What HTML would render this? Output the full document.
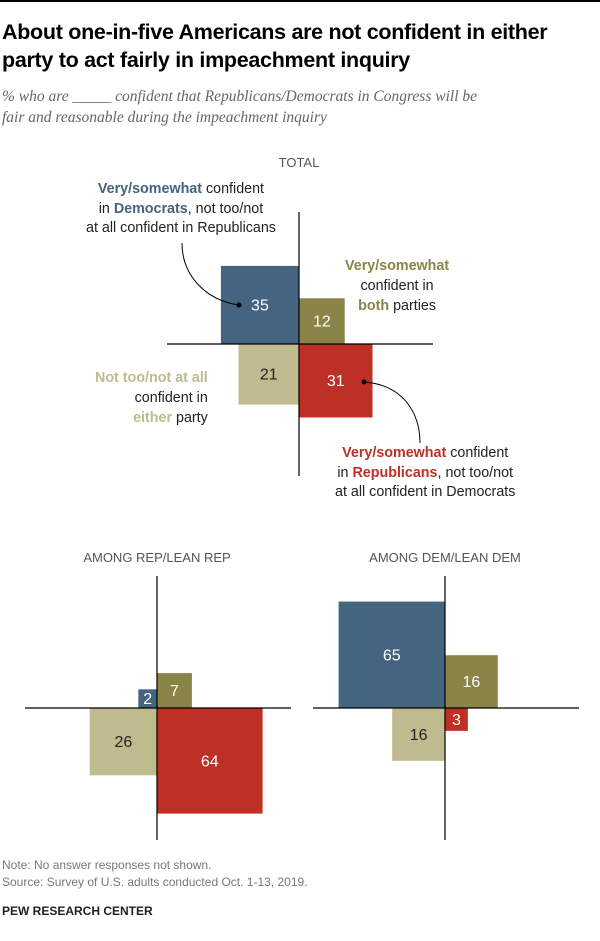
<!DOCTYPE html>
<html><head><meta charset="utf-8"><style>
body{margin:0;width:600px;height:941px;background:#fff;font-family:"Liberation Sans",sans-serif;position:relative;overflow:hidden}
.t{position:absolute;white-space:nowrap}
</style></head><body>
<div style="position:absolute;left:0;top:0;width:600px;height:2px;background:#000"></div>
<div class="t" style="left:2px;top:18px;font-size:21.5px;font-weight:bold;line-height:28px;color:#000;letter-spacing:-0.3px">About one-in-five Americans are not confident in either<br>party to act fairly in impeachment inquiry</div>
<div class="t" style="left:2px;top:86px;font-family:'Liberation Serif',serif;font-style:italic;font-size:15.5px;line-height:21px;color:#666">% who are _____ confident that Republicans/Democrats in Congress will be<br>fair and reasonable during the impeachment inquiry</div>
<svg id="chart" width="600" height="941" style="position:absolute;left:0;top:0" font-family="Liberation Sans, sans-serif"></svg>
<div class="t" style="left:86px;top:180px;font-size:14.3px;line-height:19.5px;color:#222;text-align:center"><b style="color:#44647f">Very/somewhat</b> confident<br>in <b style="color:#44647f">Democrats</b>, not too/not<br>at all confident in Republicans</div>
<div class="t" style="left:345px;top:256px;font-size:14.3px;line-height:20px;color:#222;text-align:center"><b style="color:#8a8448">Very/somewhat</b><br>confident in<br><b style="color:#8a8448">both</b> parties</div>
<div class="t" style="left:95px;top:368px;font-size:14.3px;line-height:20px;color:#222;text-align:right"><b style="color:#c0ba8f">Not too/not at all</b><br>confident in<br><b style="color:#c0ba8f">either</b> party</div>
<div class="t" style="left:335px;top:444px;font-size:14.3px;line-height:19.5px;color:#222;text-align:center"><b style="color:#be3025">Very/somewhat</b> confident<br>in <b style="color:#be3025">Republicans</b>, not too/not<br>at all confident in Democrats</div>
<div class="t" style="left:2px;top:857px;font-size:12px;line-height:17px;color:#777">Note: No answer responses not shown.<br>Source: Survey of U.S. adults conducted Oct. 1-13, 2019.</div>
<div class="t" style="left:2px;top:904px;font-size:12px;font-weight:bold;color:#222">PEW RESEARCH CENTER</div>
<script>
const groups=["TOTAL","AMONG REP/LEAN REP","AMONG DEM/LEAN DEM"];
const demOnly=[35,2,65];
const bothParties=[12,7,16];
const neitherParty=[21,26,16];
const repOnly=[31,64,3];
const cx=[299,157,445], cy=[344,708,708], titleY=[167,562,562];
const K=13.2;
const size=v=>Math.sqrt(v)*K;
const svg=document.getElementById('chart');
const NS='http://www.w3.org/2000/svg';
function mk(tag,attrs,name){const e=document.createElementNS(NS,tag);for(const k in attrs)e.setAttribute(k,attrs[k]);


svg.appendChild(e);return e;}
function txt(x,y,s,fill,name,size){const t=mk('text',{x:x,y:y,'text-anchor':'middle','font-size':size||15,fill:fill},name);t.textContent=s;return t;}
for(let g=0;g<3;g++){
  const x=cx[g],y=cy[g];
  txt(x,titleY[g],groups[g],'#555','group-title',13);
  const q=[[demOnly[g],-1,-1,'#44647f','#fff','square-dem-only'],[bothParties[g],1,-1,'#8a8448','#fff','square-both'],[neitherParty[g],-1,1,'#c0ba8f','#222','square-neither'],[repOnly[g],1,1,'#be3025','#fff','square-rep-only']];
  q.forEach(([v,sx,sy,c,tc,nm])=>{const s=size(v);
    mk('rect',{x:sx<0?x-s:x,y:sy<0?y-s:y,width:s,height:s,fill:c},nm);
    txt(x+sx*s/2,y+sy*s/2+5.5,String(v),tc,nm+'-value',16);});
  mk('line',{x1:x-132,x2:x+134,y1:y,y2:y,stroke:'#000','stroke-width':1.2},'x-axis');
  mk('line',{x1:x,x2:x,y1:y-132,y2:y+132,stroke:'#000','stroke-width':1.2},'y-axis');
}
mk('path',{d:'M182 243 C182 275 205 300 239 305',fill:'none',stroke:'#000','stroke-width':1},'leader-dem');
mk('circle',{cx:239,cy:305,r:2.5,fill:'#000'},'leader-dem-dot');
mk('path',{d:'M364 382 C405 385 420 415 420 443',fill:'none',stroke:'#000','stroke-width':1},'leader-rep');
mk('circle',{cx:364,cy:382,r:2.5,fill:'#000'},'leader-rep-dot');
</script>
</body></html>
